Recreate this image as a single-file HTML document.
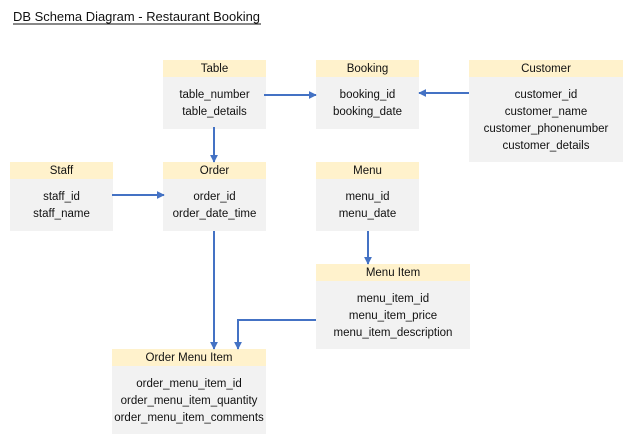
<!DOCTYPE html>
<html><head><style>
html,body{margin:0;padding:0;background:#fff;}
svg text{font-family:"Liberation Sans","Noto Sans CJK KR",sans-serif;font-size:11.5px;fill:#111;}
</style></head><body>
<svg width="630" height="441" viewBox="0 0 630 441" xmlns="http://www.w3.org/2000/svg">
<defs>
<marker id="a" viewBox="0 0 10 10" refX="9" refY="5" markerWidth="4" markerHeight="4" orient="auto"><path d="M0,0L10,5L0,10z" fill="#4472c4"/></marker>
</defs>
<text x="13" y="21" style="font-size:13px" textLength="247" lengthAdjust="spacingAndGlyphs">DB Schema Diagram - Restaurant Booking</text>
<line x1="13" y1="24" x2="261" y2="24" stroke="#111" stroke-width="1"/>
<g>
<rect x="163" y="60" width="103" height="17" fill="#fff2cc"/><rect x="163" y="77" width="103" height="52" fill="#f2f2f2"/>
<text x="214.5" y="72" text-anchor="middle">Table</text>
<text x="214.5" y="98" text-anchor="middle">table_number</text>
<text x="214.5" y="115" text-anchor="middle">table_details</text>

<rect x="316" y="60" width="103" height="17" fill="#fff2cc"/><rect x="316" y="77" width="103" height="52" fill="#f2f2f2"/>
<text x="367.5" y="72" text-anchor="middle">Booking</text>
<text x="367.5" y="98" text-anchor="middle">booking_id</text>
<text x="367.5" y="115" text-anchor="middle">booking_date</text>

<rect x="469" y="60" width="154" height="17" fill="#fff2cc"/><rect x="469" y="77" width="154" height="85" fill="#f2f2f2"/>
<text x="546" y="72" text-anchor="middle">Customer</text>
<text x="546" y="98" text-anchor="middle">customer_id</text>
<text x="546" y="115" text-anchor="middle">customer_name</text>
<text x="546" y="132" text-anchor="middle">customer_phonenumber</text>
<text x="546" y="149" text-anchor="middle">customer_details</text>

<rect x="10" y="162" width="103" height="17" fill="#fff2cc"/><rect x="10" y="179" width="103" height="52" fill="#f2f2f2"/>
<text x="61.5" y="174" text-anchor="middle">Staff</text>
<text x="61.5" y="200" text-anchor="middle">staff_id</text>
<text x="61.5" y="217" text-anchor="middle">staff_name</text>

<rect x="163" y="162" width="103" height="17" fill="#fff2cc"/><rect x="163" y="179" width="103" height="52" fill="#f2f2f2"/>
<text x="214.5" y="174" text-anchor="middle">Order</text>
<text x="214.5" y="200" text-anchor="middle">order_id</text>
<text x="214.5" y="217" text-anchor="middle">order_date_time</text>

<rect x="316" y="162" width="103" height="17" fill="#fff2cc"/><rect x="316" y="179" width="103" height="52" fill="#f2f2f2"/>
<text x="367.5" y="174" text-anchor="middle">Menu</text>
<text x="367.5" y="200" text-anchor="middle">menu_id</text>
<text x="367.5" y="217" text-anchor="middle">menu_date</text>

<rect x="316" y="264" width="154" height="17" fill="#fff2cc"/><rect x="316" y="281" width="154" height="68" fill="#f2f2f2"/>
<text x="393" y="276" text-anchor="middle">Menu Item</text>
<text x="393" y="302" text-anchor="middle">menu_item_id</text>
<text x="393" y="319" text-anchor="middle">menu_item_price</text>
<text x="393" y="336" text-anchor="middle">menu_item_description</text>

<rect x="112" y="349" width="154" height="17" fill="#fff2cc"/><rect x="112" y="366" width="154" height="68" fill="#f2f2f2"/>
<text x="189" y="361" text-anchor="middle">Order Menu Item</text>
<text x="189" y="387" text-anchor="middle">order_menu_item_id</text>
<text x="189" y="404" text-anchor="middle">order_menu_item_quantity</text>
<text x="189" y="421" text-anchor="middle">order_menu_item_comments</text>
</g>
<g stroke="#4472c4" stroke-width="2" fill="none" marker-end="url(#a)">
<line x1="264" y1="95" x2="316" y2="95"/>
<line x1="469" y1="93" x2="419" y2="93"/>
<line x1="214" y1="127" x2="214" y2="162"/>
<line x1="112" y1="195" x2="164" y2="195"/>
<line x1="214" y1="231" x2="214" y2="349"/>
<line x1="368" y1="231" x2="368" y2="264"/>
<polyline points="316,320 238,320 238,349"/>
</g>
</svg>
</body></html>
